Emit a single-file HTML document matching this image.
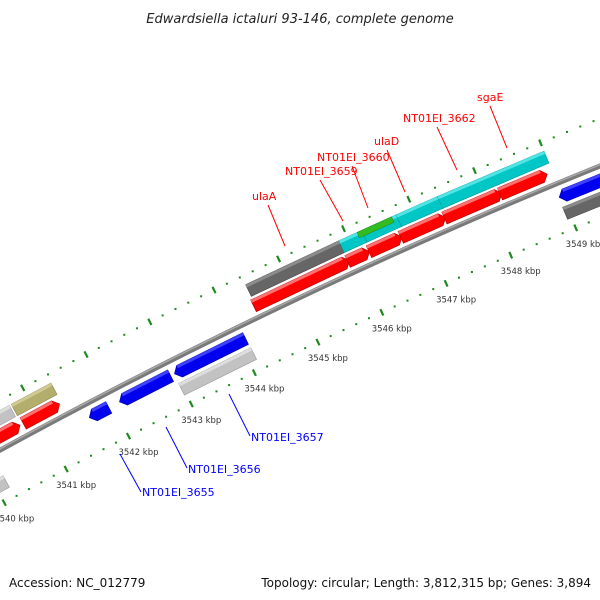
<!DOCTYPE html>
<html><head><meta charset="utf-8">
<style>
html,body{margin:0;padding:0;background:#fff;}
svg{display:block;}
text{font-family:"DejaVu Sans","Liberation Sans",sans-serif;}
</style></head>
<body>
<svg id="map" width="600" height="600" viewBox="0 0 600 600" xmlns="http://www.w3.org/2000/svg">
<text x="300" y="23" text-anchor="middle" font-size="13" font-style="italic" fill="#222">Edwardsiella ictaluri 93-146, complete genome</text>
<text x="9" y="587" font-size="12" fill="#111">Accession: NC_012779</text>
<text x="591" y="587" text-anchor="end" font-size="12" fill="#111">Topology: circular; Length: 3,812,315 bp; Genes: 3,894</text>
<g id="rings"></g>
<g id="genes"></g>
<g id="labels"></g>
</svg>
<script>
// ---- data ----
const majorTicks = [3539,3540,3541,3542,3543,3544,3545,3546,3547,3548,3549,3550];
const tickLabels = ["3539 kbp","3540 kbp","3541 kbp","3542 kbp","3543 kbp","3544 kbp","3545 kbp","3546 kbp","3547 kbp","3548 kbp","3549 kbp","3550 kbp"];
const geneStart = [3544.43,3545.87,3546.22,3546.75,3547.38,3544.40,3545.86,3546.19,3546.68,3547.35,3548.20,3540.0,3540.75,3540.0,3540.77,3541.63,3542.11,3542.98,3542.97,3539.5,3548.95,3548.94];
const geneEnd   = [3545.87,3546.22,3546.75,3547.38,3549.00,3545.89,3546.20,3546.70,3547.37,3548.23,3548.92,3540.72,3541.38,3540.72,3541.35,3541.94,3542.92,3544.10,3544.11,3540.17,3550.5,3550.5];
const geneRow   = ["upperBox","upperBox","upperBox","upperBox","upperBox","upperArrow","upperArrow","upperArrow","upperArrow","upperArrow","upperArrow","upperBox","upperBox","upperArrow","upperArrow","lowerArrow","lowerArrow","lowerArrow","lowerBox","lowerBox","lowerArrow","lowerBox"];
const geneColor = ["dgray","cyan","cyan","cyan","cyan","red","red","red","red","red","red","lgray","olive","red","red","blue","blue","blue","lgray","lgray","blue","dgray"];
const greenStart = [3546.15];
const greenEnd = [3546.68];

// ---- geometry ----
const CX=2757, CY=5495, A0=-115.33, DA=0.7085;
const R_BACK=5749, R_TICK_IN=5701, R_TICK_OUT=5793;
const rows={upperArrow:[5755,5768],upperBox:[5771,5784],lowerArrow:[5729,5742],lowerBox:[5712,5725]};
const pal={red:["#ff0000","#ff7070","#b00000"],dgray:["#666666","#8c8c8c","#444444"],cyan:["#00c6c6","#50e4e4","#009a9a"],lgray:["#c2c2c2","#dedede","#9a9a9a"],olive:["#b4ae6c","#cfca92","#8a854f"],blue:["#0000ee","#4040ff","#0000a0"]};
function pt(p,r){const a=(A0+(p-3545)*DA)*Math.PI/180;return [CX+r*Math.cos(a),CY+r*Math.sin(a)];}
const NS="http://www.w3.org/2000/svg";
function mk(tag,attrs,parent){const e=document.createElementNS(NS,tag);for(const k in attrs)e.setAttribute(k,attrs[k]);parent.appendChild(e);return e;}
function arcPath(p0,p1,r){let d="";for(let p=p0,i=0;p<=p1+1e-9;p+=0.25,i++){const q=pt(p,r);d+=(i?"L":"M")+q[0].toFixed(2)+","+q[1].toFixed(2);}return d;}
function poly(list){return list.map(q=>q[0].toFixed(2)+","+q[1].toFixed(2)).join(" ");}

const rings=document.getElementById("rings");
// backbone
const bb1=mk("path",{d:arcPath(3538,3551,R_BACK),fill:"none",stroke:"#7a7a7a","stroke-width":"5"},rings);


const bb2=mk("path",{d:arcPath(3538,3551,R_BACK+1.2),fill:"none",stroke:"#a8a8a8","stroke-width":"1.5"},rings);



// ticks
[R_TICK_IN,R_TICK_OUT].forEach(function(R){
  for(let p=3538;p<=3551.01;p+=0.2){
    const isMajor=Math.abs(p-Math.round(p))<1e-6;
    if(isMajor)continue;
    const q=pt(p,R);
    const d=mk("rect",{x:(q[0]-1).toFixed(2),y:(q[1]-1).toFixed(2),width:"2",height:"2",fill:"#1e8a1e"},rings);
    
    
  }
  majorTicks.forEach(function(p,i){
    const a=pt(p,R-3.5),b=pt(p,R+3.5);
    const t=mk("line",{x1:a[0],y1:a[1],x2:b[0],y2:b[1],stroke:"#1e8a1e","stroke-width":"2.2"},rings);
    
    
    if(R===R_TICK_IN){
      const q=pt(p,R);
      const l=mk("text",{x:(q[0]+10).toFixed(1),y:(q[1]+19).toFixed(1),"text-anchor":"middle","font-size":"8.5",fill:"#333"},rings);
      l.textContent=tickLabels[i];
      
      
    }
  });
});

// genes
const genes=document.getElementById("genes");
for(let i=0;i<geneStart.length;i++){
  const s=geneStart[i],e=geneEnd[i],row=geneRow[i],c=pal[geneColor[i]];
  const [ri,ro]=rows[row];const rm=(ri+ro)/2;const h=0.08;
  const outer = row.startsWith("upper")?ro:ri; // outer = far side from backbone for highlight
  let pts;
  if(row==="upperArrow"){
    pts=[pt(s,ri),pt(s,ro),pt(e-h,ro),pt(e,rm),pt(e-h,ri)];
  }else if(row==="lowerArrow"){
    pts=[pt(e,ri),pt(e,ro),pt(s+h,ro),pt(s,rm),pt(s+h,ri)];
  }else{
    pts=[pt(s,ri),pt(s,ro),pt(e,ro),pt(e,ri)];
  }
  const g=mk("polygon",{points:poly(pts),fill:c[0],stroke:c[2],"stroke-width":"0.6"},genes);
  
  
  // highlight band on top side
  const hs=row==="lowerArrow"?s+h:s, he=row==="upperArrow"?e-h:e;
  const hl=mk("polygon",{points:poly([pt(hs,ro-3),pt(hs,ro),pt(he,ro),pt(he,ro-3)]),fill:c[1]},genes);
  
  
}
for(let i=0;i<greenStart.length;i++){
  const gr=mk("polygon",{points:poly([pt(greenStart[i],5778),pt(greenStart[i],5784),pt(greenEnd[i],5784),pt(greenEnd[i],5778)]),fill:"#33bb22",stroke:"#228811","stroke-width":"0.5"},genes);
  
  
}
</script>
<svg style="position:absolute;left:0;top:0" width="600" height="600">
<g font-family="'Liberation Sans',sans-serif" font-size="11">
<line x1="268" y1="205" x2="285" y2="246" stroke="#ff0000"/>
<text x="252" y="200" fill="#ff0000">ulaA</text>
<line x1="320" y1="180" x2="343" y2="221" stroke="#ff0000"/>
<text x="285" y="175" fill="#ff0000">NT01EI_3659</text>
<line x1="352" y1="166" x2="368" y2="208" stroke="#ff0000"/>
<text x="317" y="161" fill="#ff0000">NT01EI_3660</text>
<line x1="387" y1="150" x2="405" y2="192" stroke="#ff0000"/>
<text x="374" y="145" fill="#ff0000">ulaD</text>
<line x1="437" y1="127" x2="457" y2="170" stroke="#ff0000"/>
<text x="403" y="122" fill="#ff0000">NT01EI_3662</text>
<line x1="490" y1="106" x2="507" y2="148" stroke="#ff0000"/>
<text x="477" y="101" fill="#ff0000">sgaE</text>
<line x1="229" y1="394" x2="250" y2="436" stroke="#0000ff"/>
<text x="251" y="441" fill="#0000ff">NT01EI_3657</text>
<line x1="166" y1="427" x2="187" y2="468" stroke="#0000ff"/>
<text x="188" y="473" fill="#0000ff">NT01EI_3656</text>
<line x1="120" y1="454" x2="141" y2="492" stroke="#0000ff"/>
<text x="142" y="496" fill="#0000ff">NT01EI_3655</text>
</g>
</svg>
</body></html>
